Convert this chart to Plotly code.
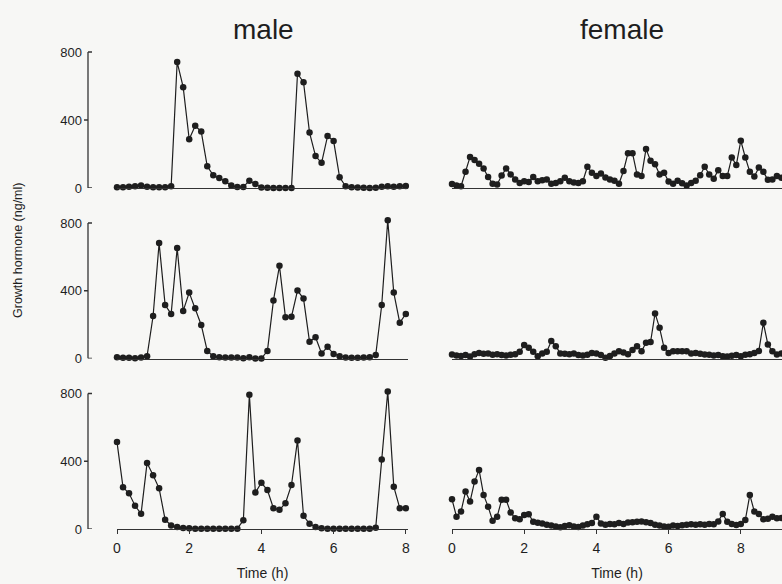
import plotly.graph_objects as go

W, H = 782, 584

# ---------------- data ----------------
male_step_h = 1 / 6      # 10-min sampling
female_step_h = 0.125    # 7.5-min sampling

male_1 = [5, 5, 8, 10, 15, 8, 5, 5, 5, 10, 741, 593, 287, 366, 332, 128, 75, 59, 40, 14,
          6, 6, 43, 24, 3, 2, 0, 0, 0, 0, 672, 622, 326, 188, 148, 306, 277, 63, 10, 5,
          3, 2, 0, 2, 8, 10, 8, 10, 12]
male_2 = [8, 5, 5, 2, 6, 14, 251, 682, 316, 263, 652, 281, 389, 296, 198, 45, 14, 8, 6, 6,
          6, 2, 8, 0, 0, 45, 342, 547, 243, 247, 401, 354, 99, 125, 30, 69, 26, 14, 6, 5,
          5, 6, 8, 20, 316, 816, 389, 211, 263]
male_3 = [513, 246, 211, 137, 90, 390, 318, 240, 55, 21, 12, 6, 4, 2, 2, 2, 2, 2, 2, 2,
          2, 51, 792, 215, 273, 230, 123, 113, 152, 260, 523, 78, 31, 12, 4, 2, 2, 2, 2, 2,
          2, 2, 2, 8, 410, 812, 250, 123, 123]

female_1 = [24, 14, 10, 95, 183, 165, 142, 115, 65, 25,
            20, 73, 115, 80, 50, 30, 40, 35, 65, 40,
            45, 50, 25, 30, 40, 60, 40, 32, 30, 40,
            125, 90, 70, 85, 62, 50, 42, 25, 100, 205,
            205, 80, 70, 230, 160, 140, 80, 90, 38, 25,
            42, 28, 15, 30, 42, 75, 125, 80, 55, 105,
            70, 70, 180, 135, 278, 180, 95, 68, 120, 95,
            48, 50, 70, 60, 55]
female_2 = [24, 18, 15, 20, 12, 25, 33, 28, 30, 22,
            25, 20, 18, 22, 25, 40, 79, 63, 40, 14,
            30, 40, 103, 73, 30, 28, 25, 30, 20, 18,
            22, 33, 30, 20, 4, 15, 30, 43, 35, 25,
            50, 73, 43, 93, 97, 266, 181, 63, 33, 43,
            43, 43, 43, 30, 33, 28, 24, 22, 18, 20,
            14, 12, 16, 20, 14, 22, 25, 33, 45, 211,
            83, 43, 24, 30, 28]
female_3 = [175, 73, 103, 221, 162, 280, 349, 201, 132, 49,
            73, 172, 172, 97, 63, 57, 83, 87, 43, 37,
            33, 25, 20, 15, 10, 18, 22, 15, 12, 20,
            28, 35, 73, 33, 25, 30, 28, 35, 30, 38,
            40, 43, 45, 40, 35, 25, 20, 15, 14, 20,
            18, 22, 25, 28, 25, 28, 25, 30, 28, 45,
            89, 43, 30, 24, 30, 53, 201, 103, 89, 57,
            60, 73, 63, 65, 60]

male_rows = [male_1, male_2, male_3]
female_rows = [female_1, female_2, female_3]

y_ticks = [0, 400, 800]
x_ticks = [0, 2, 4, 6, 8]
column_titles = ["male", "female"]
y_title = "Growth hormone (ng/ml)"
x_title = "Time (h)"

# ---------------- layout geometry (pixels) ----------------
FONT = "Arial, 'Liberation Sans', Helvetica, sans-serif"
INK = "#1e1e1e"
AXC = "#333333"
BG = "#f7f7f5"

rows_px = [(52, 188), (223, 358.5), (393.5, 529)]  # (y of 800, y of 0)
left_x_px = (117, 408)
right_x_px = (452, 782)
px_per_h = 36.1
yaxis_x_px = 88
Y_TOP = 840      # a little headroom so peaks just above 800 are drawn
TICK = 4

fig = go.Figure()
layout = dict(
    width=W, height=H,
    margin=dict(l=0, r=0, t=0, b=0),
    paper_bgcolor=BG, plot_bgcolor=BG,
    showlegend=False,
    font=dict(family=FONT, color=INK, size=13),
)
shapes = []

for r in range(3):
    top, bot = rows_px[r]
    px_per_unit = (bot - top) / 800
    top_ext = bot - Y_TOP * px_per_unit
    dom = [1 - bot / H, 1 - top_ext / H]
    bottom_row = (r == 2)
    for c in range(2):
        idx = r + 1 + 3 * c
        xn = "x" if idx == 1 else f"x{idx}"
        yn = "y" if idx == 1 else f"y{idx}"
        xk = "xaxis" if idx == 1 else f"xaxis{idx}"
        yk = "yaxis" if idx == 1 else f"yaxis{idx}"
        if c == 0:
            vals = male_rows[r]
            step = male_step_h
            xpx = left_x_px
        else:
            vals = female_rows[r]
            step = female_step_h
            xpx = right_x_px
        times = [i * step for i in range(len(vals))]
        xmax = (xpx[1] - xpx[0]) / px_per_h
        fig.add_trace(go.Scatter(
            x=times, y=vals, mode="lines+markers", xaxis=xn, yaxis=yn,
            line=dict(color=INK, width=1.2),
            marker=dict(color=INK, size=6.5),
            cliponaxis=False, hoverinfo="skip",
        ))
        xa = dict(
            domain=[xpx[0] / W, xpx[1] / W], range=[0, xmax], anchor=yn,
            showline=True, linecolor=AXC, linewidth=1.3,
            showgrid=False, zeroline=False,
            tickvals=x_ticks, automargin=False,
        )
        if bottom_row:
            xa.update(ticks="outside", ticklen=4, tickwidth=1.3, tickcolor=AXC,
                      showticklabels=True, ticklabelstandoff=2,
                      tickfont=dict(size=14, family=FONT, color=INK),
                      title=dict(text=x_title, font=dict(size=14, family=FONT, color=INK),
                                 standoff=13))
        else:
            xa.update(ticks="", showticklabels=False)
        layout[xk] = xa
        ya = dict(domain=dom, range=[0, Y_TOP], showgrid=False, zeroline=False,
                  automargin=False)
        if c == 0:
            ya.update(anchor="free", position=yaxis_x_px / W, showline=False,
                      tickvals=y_ticks, ticks="", ticklabelstandoff=6,
                      tickfont=dict(size=13, family=FONT, color=INK))
            # bracket-style axis: vertical line from 0 to 800, end ticks inward,
            # middle tick outward
            ax = yaxis_x_px / W
            shapes.append(dict(type="line", xref="paper", yref=yn, x0=ax, x1=ax,
                               y0=y_ticks[0], y1=y_ticks[-1],
                               line=dict(color=AXC, width=1.3)))
            for tv in y_ticks:
                inward = tv in (y_ticks[0], y_ticks[-1])
                x_end = (yaxis_x_px + (TICK if inward else -TICK)) / W
                shapes.append(dict(type="line", xref="paper", yref=yn, x0=ax, x1=x_end,
                                   y0=tv, y1=tv, line=dict(color=AXC, width=1.3)))
        else:
            ya.update(anchor=xn, visible=False)
        layout[yk] = ya

annotations = [
    dict(text=column_titles[0], x=263 / W, y=1 - 29 / H, xref="paper", yref="paper",
         showarrow=False, font=dict(size=28, family=FONT, color=INK),
         xanchor="center", yanchor="middle"),
    dict(text=column_titles[1], x=622 / W, y=1 - 29 / H, xref="paper", yref="paper",
         showarrow=False, font=dict(size=28, family=FONT, color=INK),
         xanchor="center", yanchor="middle"),
    dict(text=y_title, x=18 / W, y=1 - 251 / H, xref="paper", yref="paper",
         showarrow=False, textangle=-90, font=dict(size=12.5, family=FONT, color=INK),
         xanchor="center", yanchor="middle"),
]
layout["annotations"] = annotations
layout["shapes"] = shapes
fig.update_layout(**layout)

fig.write_html("out.html")
